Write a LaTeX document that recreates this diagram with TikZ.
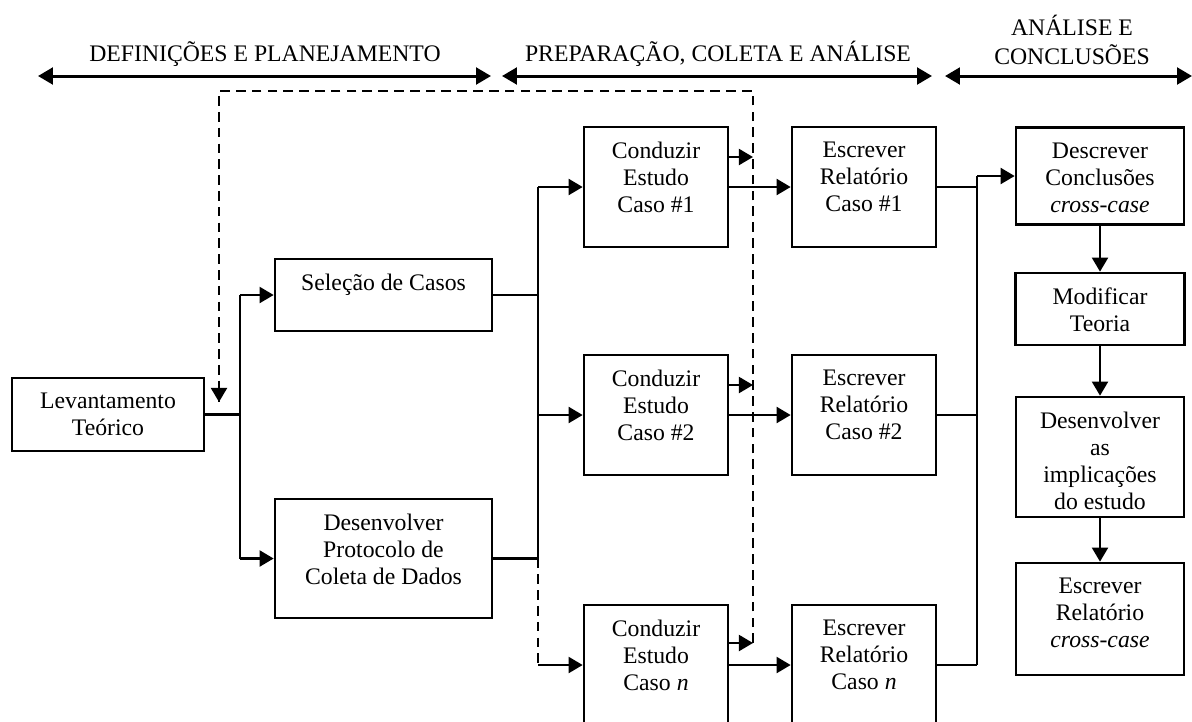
\documentclass[tikz,border=0pt]{standalone}
\usepackage{fontspec}
\setmainfont{Liberation Serif}
\usetikzlibrary{arrows.meta}
\newcommand\bx[6]{%
  \node[boxshape, minimum width=#4*0.02cm, minimum height=#5*0.02cm] (#1) at (#2,#3) {};
  \node[txt, anchor=north] (#1t) at ([yshift=-0.32cm]#1.north) {#6};}
\begin{document}
\begin{tikzpicture}[x=0.02cm,y=-0.02cm,
  lw/.style={line width=1.5pt},
  boxshape/.style={draw, lw, inner sep=0pt},
  txt/.style={align=center, inner sep=0pt, font=\fontsize{13.5}{15.4}\selectfont},
  conn/.style={lw},
  arr/.style={lw, -{Triangle[length=8pt,width=9pt]}},
  dsh/.style={lw, dash pattern=on 5.5pt off 3.5pt},
  hdr/.style={line width=1.7pt, {Triangle[length=8.5pt,width=9.5pt]}-{Triangle[length=8.5pt,width=9.5pt]}}]
\useasboundingbox (0,0) rectangle (1192,721);
\clip (0,0) rectangle (1192,721);

% header
\coordinate (h1a) at (38,76); \coordinate (h1b) at (491,76);
\coordinate (h2a) at (502,76); \coordinate (h2b) at (932,76);
\coordinate (h3a) at (945,76); \coordinate (h3b) at (1192,76);
\draw[hdr] (h1a) -- (h1b);
\draw[hdr] (h2a) -- (h2b);
\draw[hdr] (h3a) -- (h3b);
\node[txt, anchor=base] (h1t) at (265,61) {DEFINIÇÕES E PLANEJAMENTO};
\node[txt, anchor=base] (h2t) at (718,61) {PREPARAÇÃO, COLETA E ANÁLISE};
\node[txt, anchor=south, font=\fontsize{13.5}{16.5}\selectfont] (h3t) at (1072,65) {ANÁLISE E\\CONCLUSÕES};

% boxes
\bx{lev}{108}{414.5}{192}{73}{Levantamento\\Teórico}
\bx{sel}{383.5}{295}{217}{72}{Seleção de Casos}
\bx{prot}{383.5}{558.5}{217}{119}{Desenvolver\\Protocolo de\\Coleta de Dados}
\bx{c1}{656}{187}{144}{120}{Conduzir\\Estudo\\Caso \#1}
\bx{c2}{656}{415}{144}{120}{Conduzir\\Estudo\\Caso \#2}
\bx{cn}{656}{665}{144}{120}{Conduzir\\Estudo\\Caso \textit{n}}
\bx{e1}{864}{187}{144}{120}{Escrever\\Relatório\\Caso \#1}
\bx{e2}{864}{415}{144}{120}{Escrever\\Relatório\\Caso \#2}
\bx{en}{864}{665}{144}{120}{Escrever\\Relatório\\Caso \textit{n}}
\bx{d1}{1100}{176}{168}{97}{Descrever\\Conclusões\\\textit{cross-case}}
\bx{mod}{1100}{309}{169}{72}{Modificar\\Teoria}
\bx{des}{1100}{457}{168}{120}{Desenvolver\\as\\implicações\\do estudo}
\bx{ecc}{1100}{619}{168}{112}{Escrever\\Relatório\\\textit{cross-case}}

% trunk 1
\coordinate (j1top) at (240,295);
\coordinate (j1bot) at (240,558.5);
\draw[conn] (lev.east) -- (lev.east -| j1top);
\draw[conn] (j1top) -- (j1bot);
\draw[arr] (j1top) -- (sel.west);
\draw[arr] (j1bot) -- (prot.west);

% trunk 2
\coordinate (j2top) at (538,187);
\coordinate (j2mid) at (538,415);
\coordinate (j2bot) at (538,558.5);
\coordinate (j2n) at (538,665);
\draw[conn] (sel.east) -- (sel.east -| j2top);
\draw[conn] (prot.east) -- (j2bot);
\draw[conn] (j2top) -- (j2bot);
\draw[arr] (j2top) -- (c1.west);
\draw[arr] (j2mid) -- (c2.west);
\draw[dsh] (j2bot) -- (j2n);
\draw[arr] (j2n) -- (cn.west);

% cases to reports
\draw[arr] (c1.east) -- (e1.west);
\draw[arr] (c2.east) -- (e2.west);
\draw[arr] (cn.east) -- (en.west);

% feedback
\coordinate (f1) at (753,157);
\coordinate (f2) at (753,385);
\coordinate (fn) at (753,643);
\coordinate (fa) at (753,91);
\coordinate (fb) at (219,91);
\coordinate (fc) at (219,402);
\draw[arr] (c1.east |- f1) -- (f1);
\draw[arr] (c2.east |- f2) -- (f2);
\draw[arr] (cn.east |- fn) -- (fn);
\draw[dsh] (fn) -- (fa) -- (fb) -- (fc);
\draw[arr] ([yshift=0.2cm]fc) -- (fc);

% trunk 3
\coordinate (j3top) at (977,176);
\coordinate (j3bot) at (977,665);
\draw[conn] (e1.east) -- (e1.east -| j3top);
\draw[conn] (e2.east) -- (e2.east -| j3top);
\draw[conn] (en.east) -- (j3bot);
\draw[conn] (j3bot) -- (j3top);
\draw[arr] (j3top) -- (d1.west);

% right column
\draw[arr] (d1) -- (mod);
\draw[arr] (mod) -- (des);
\draw[arr] (des) -- (ecc);
\end{tikzpicture}
\end{document}
